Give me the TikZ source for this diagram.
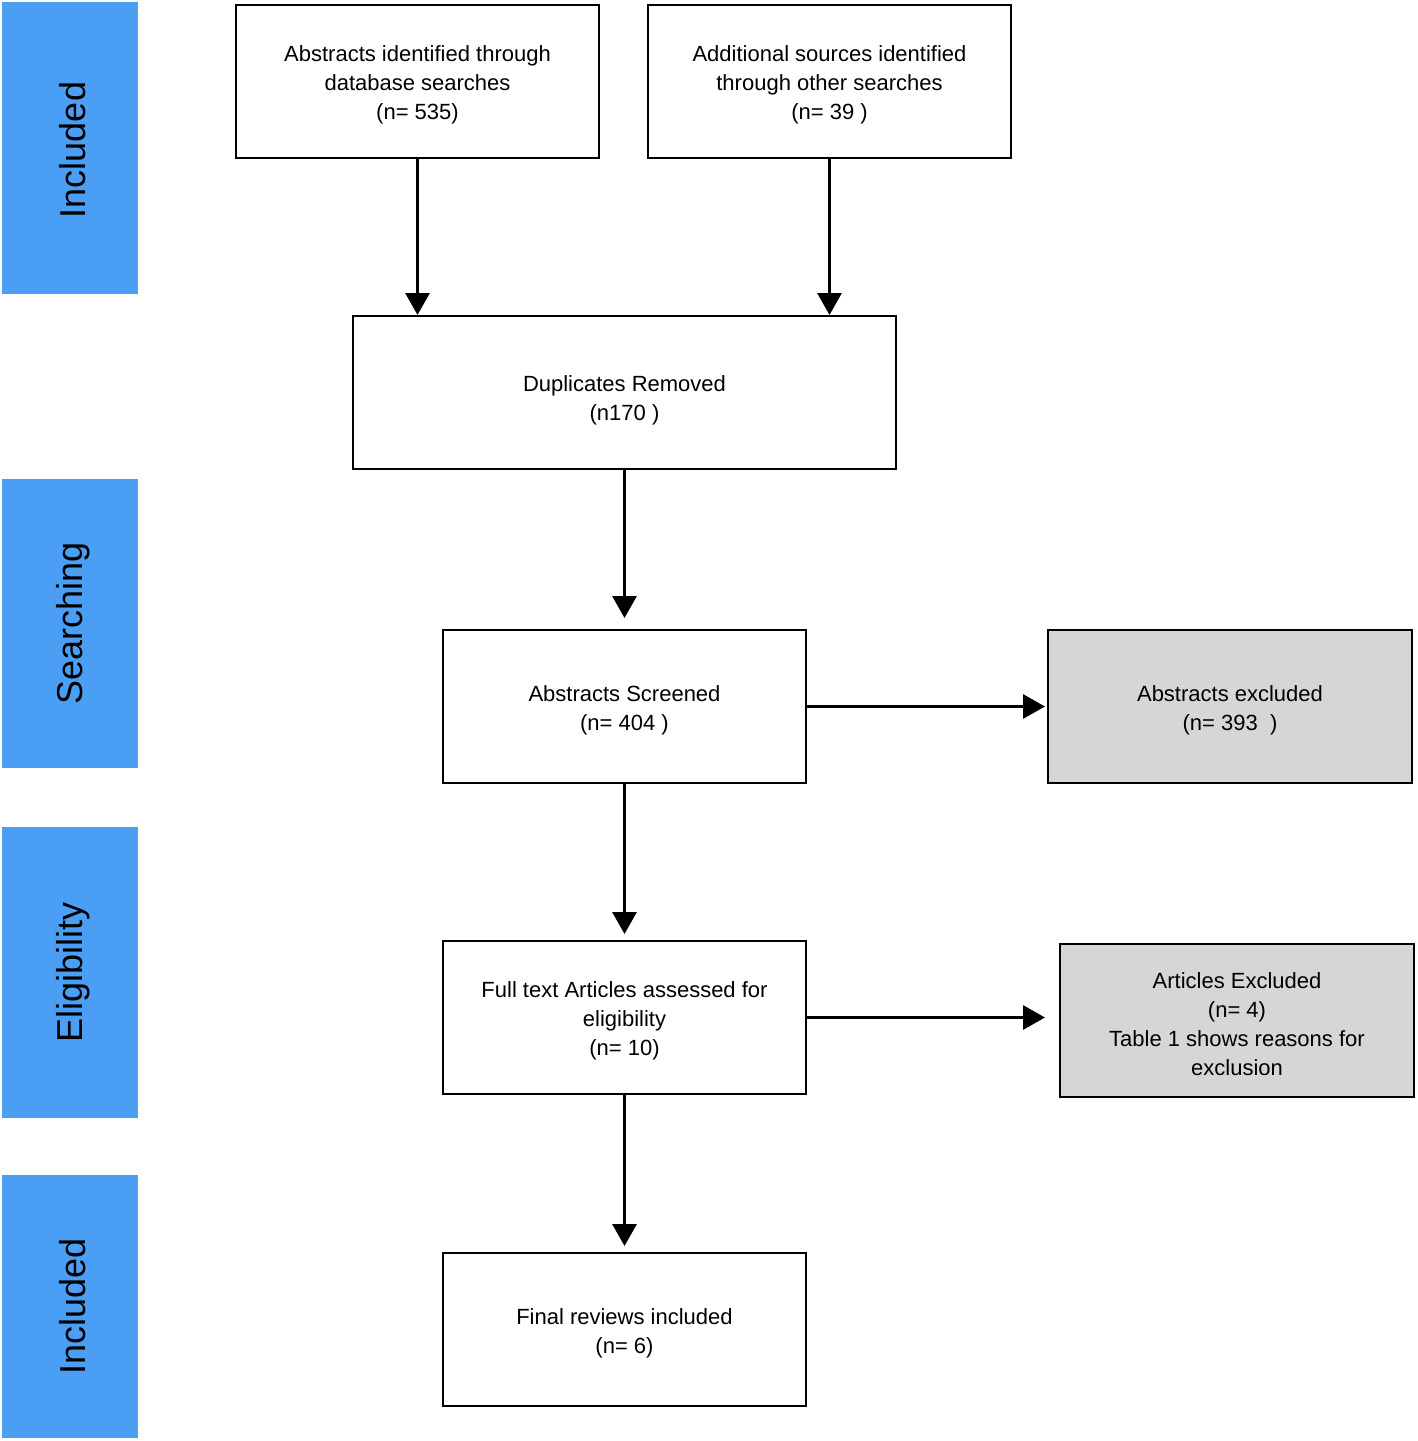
\documentclass[tikz,border=0pt]{standalone}
\usepackage{fontspec}
\setmainfont{Liberation Sans}
\usetikzlibrary{arrows.meta}
\definecolor{barblue}{RGB}{74,159,245}
\definecolor{exgray}{RGB}{214,214,214}
\newcommand{\toppad}{\rule{0pt}{23pt}}
\tikzset{
  stagebar/.style={fill=barblue, draw=none, minimum width=136pt, inner sep=0pt, anchor=north west},
  stagelabel/.style={rotate=90, font=\fontsize{36}{40}\selectfont},
  flowbox/.style={draw=black, line width=2pt, minimum width=363pt, minimum height=153pt, inner sep=0pt, align=center, font=\fontsize{22}{29}\selectfont},
  exbox/.style={flowbox, fill=exgray},
  arr/.style={line width=3pt, -{Triangle[width=24pt,length=22pt]}}
}
\begin{document}
\begin{tikzpicture}[x=1pt,y=-1pt]
\useasboundingbox (0,0) rectangle (1418,1441);
% stage bars
\node[stagebar, minimum height=292pt] (bar1) at (2,2) {};
\node[stagebar, minimum height=289pt] (bar2) at (2,479) {};
\node[stagebar, minimum height=291pt] (bar3) at (2,827) {};
\node[stagebar, minimum height=263pt] (bar4) at (2,1175) {};
\node[stagelabel] (lab1) at (73,150) {Included};
\node[stagelabel] (lab2) at (73,623) {Searching};
\node[stagelabel] (lab3) at (73,972) {Eligibility};
\node[stagelabel] (lab4) at (73,1306) {Included};
% boxes
\node[flowbox] (absid) at (417.5,81.5) {\toppad Abstracts identified through\\database searches\\(n= 535)};
\node[flowbox] (addsrc) at (829.5,81.5) {\toppad Additional sources identified\\through other searches\\(n= 39 )};
\node[flowbox, minimum width=543pt] (dup) at (624.5,392.5) {\rule{0pt}{31pt}Duplicates Removed\\(n170 )};
\node[flowbox] (screen) at (624.5,706.5) {\toppad Abstracts Screened\\(n= 404 )};
\node[exbox, minimum width=364pt] (absex) at (1230,706.5) {\toppad Abstracts excluded\\(n= 393\ \ )};
\node[flowbox] (full) at (624.5,1017.5) {\toppad Full text Articles assessed for\\eligibility\\(n= 10)};
\node[exbox, minimum width=354pt] (artex) at (1237,1020.5) {\toppad Articles Excluded\\(n= 4)\\Table 1 shows reasons for\\exclusion};
\node[flowbox] (final) at (624.5,1329.5) {\toppad Final reviews included\\(n= 6)};
% connectors
\draw[arr] (absid.south) -- (absid.south |- dup.north);
\draw[arr] (addsrc.south) -- (addsrc.south |- dup.north);
\draw[arr, shorten >=11pt] (dup.south) -- (screen.north);
\draw[arr, shorten >=6pt] (screen.south) -- (full.north);
\draw[arr, shorten >=6pt] (full.south) -- (final.north);
\draw[arr, shorten >=2pt] (screen.east) -- (screen.east -| absex.west);
\draw[arr, shorten >=14pt] (full.east) -- (full.east -| artex.west);
\end{tikzpicture}
\end{document}
